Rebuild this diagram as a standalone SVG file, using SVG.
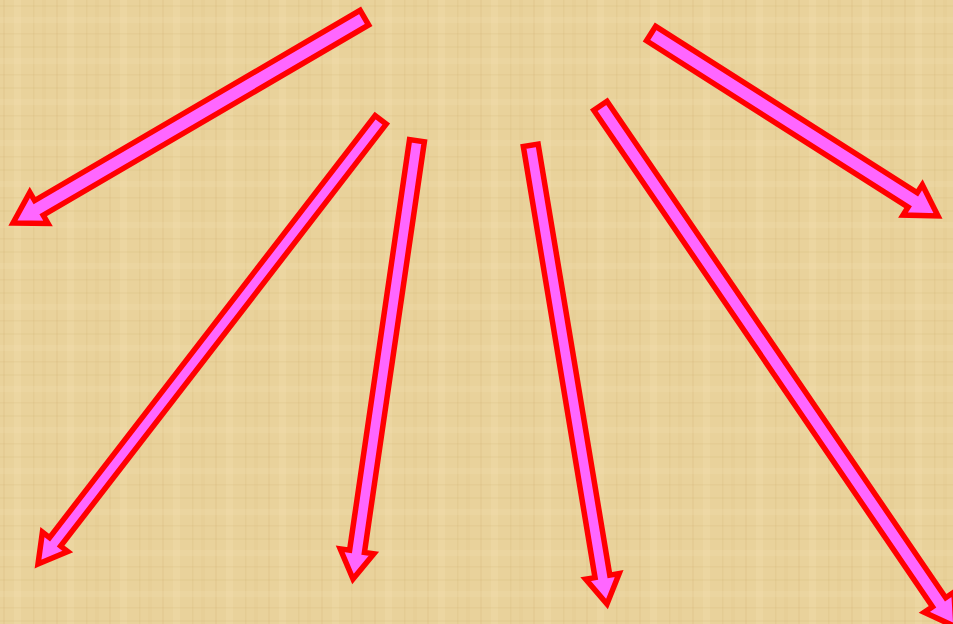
<svg xmlns="http://www.w3.org/2000/svg" width="953" height="624" viewBox="0 0 953 624">
  <defs>
    <pattern id="papyrusV" x="0" y="0" width="53" height="624" patternUnits="userSpaceOnUse">
      <rect x="3" y="0" width="2" height="624" fill="#c9a866" opacity="0.12"/>
      <rect x="14" y="0" width="7" height="624" fill="#f5e3b5" opacity="0.25"/>
      <rect x="33" y="0" width="1.5" height="624" fill="#c9a866" opacity="0.14"/>
      <rect x="42" y="0" width="4" height="624" fill="#d8bc80" opacity="0.12"/>
    </pattern>
    <pattern id="papyrusH" x="0" y="0" width="953" height="41" patternUnits="userSpaceOnUse">
      <rect x="0" y="5" width="953" height="2" fill="#c9a866" opacity="0.1"/>
      <rect x="0" y="17" width="953" height="6" fill="#f5e3b5" opacity="0.2"/>
      <rect x="0" y="33" width="953" height="1.5" fill="#c9a866" opacity="0.12"/>
    </pattern>
    <style>
      .arrow { fill: #ff66ff; stroke: #ff0000; stroke-width: 5.5; stroke-linejoin: miter; stroke-miterlimit: 10; }
    </style>
  </defs>

  <rect x="0" y="0" width="953" height="624" fill="#e9d29b"/>
  <rect x="0" y="0" width="953" height="624" fill="url(#papyrusV)"/>
  <rect x="0" y="0" width="953" height="624" fill="url(#papyrusH)"/>

  <g id="connectors">
    <g id="arrow-1" transform="translate(13,223) rotate(149.7)">
      <polygon class="arrow" points="0,0 -30,-18 -30,-8.5 -407,-8.5 -407,8.5 -30,8.5 -30,18"/>
    </g>
    <g id="arrow-2" transform="translate(38,564) rotate(127.65)">
      <polygon class="arrow" points="0,0 -28,-16 -28,-7 -561,-7 -561,7 -28,7 -28,16"/>
    </g>
    <g id="arrow-3" transform="translate(353,579) rotate(98.3)">
      <polygon class="arrow" points="0,0 -28,-17 -28,-7.5 -443,-7.5 -443,7.5 -28,7.5 -28,17"/>
    </g>
    <g id="arrow-4" transform="translate(607,604) rotate(80.56)">
      <polygon class="arrow" points="0,0 -28,-17 -28,-7.5 -465,-7.5 -465,7.5 -28,7.5 -28,17"/>
    </g>
    <g id="arrow-5" transform="translate(956,627) rotate(55.7)">
      <polygon class="arrow" points="0,0 -30,-18 -30,-8 -631,-8 -631,8 -30,8 -30,18"/>
    </g>
    <g id="arrow-6" transform="translate(938,216) rotate(32.45)">
      <polygon class="arrow" points="0,0 -30,-18 -30,-8.5 -340,-8.5 -340,8.5 -30,8.5 -30,18"/>
    </g>
  </g>
</svg>
